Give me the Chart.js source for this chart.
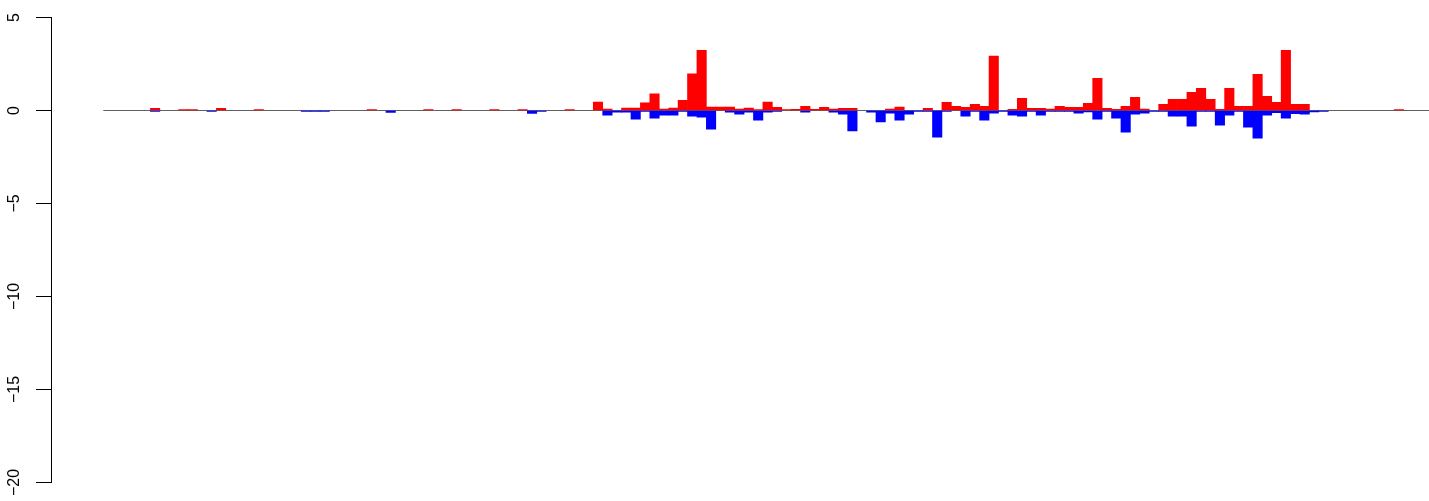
<!DOCTYPE html>
<html>
<head>
<meta charset="utf-8">
<script src="https://cdn.jsdelivr.net/npm/chart.js@4/dist/chart.umd.min.js"></script>
<style>
  html, body { margin: 0; padding: 0; background: #ffffff; }
  #c { display: block; }
</style>
</head>
<body>
<canvas id="c" width="1429" height="501"></canvas>
<script>
// ---- data ----
const categories = Array.from({length: 138}, (_, i) => i + 1);

const redValues = [
  0,0,0,0,0,0.11,0,0,0.05,0.05,
  0,0,0.11,0,0,0,0.02,0,0,0,
  0,0,0,0,0,0,0,0,0.02,0,
  0,0,0,0,0.02,0,0,0.02,0,0,
  0,0.02,0,0,0.02,0,0,0,0,0.02,
  0,0,0.45,0.07,0,0.13,0.13,0.41,0.9,0.07,
  0.13,0.55,1.97,3.24,0.18,0.18,0.18,0.07,0.13,0.02,
  0.45,0.17,0.02,0.06,0.22,0.06,0.17,0.07,0.12,0.12,
  0,0,0,0.07,0.18,0,0,0.12,0,0.44,
  0.22,0.17,0.33,0.22,2.92,0,0.06,0.65,0.11,0.11,
  0.07,0.22,0.17,0.17,0.39,1.73,0.11,0.06,0.22,0.71,
  0.07,0,0.33,0.6,0.6,0.98,1.19,0.6,0.06,1.19,
  0.22,0.22,1.95,0.76,0.44,3.24,0.33,0.33,0,0,
  0,0,0,0,0,0,0,0.02
];

const blueValues = [
  0,0,0,0,0,-0.02,0,0,0,0,
  0,-0.02,0,0,0,0,0,0,0,0,
  0,-0.02,-0.02,-0.02,0,0,0,0,0,0,
  -0.1,0,0,0,0,0,0,0,0,0,
  0,0,0,0,0,-0.16,-0.02,0,0,0,
  0,0,0,-0.25,-0.09,-0.09,-0.47,-0.04,-0.41,-0.25,
  -0.25,-0.04,-0.3,-0.36,-1.0,0,-0.09,-0.2,-0.09,-0.52,
  -0.09,-0.04,0,0,-0.09,0,0,-0.09,-0.2,-1.1,
  0,-0.09,-0.62,-0.14,-0.52,-0.2,-0.05,-0.05,-1.43,-0.04,
  0,-0.3,-0.05,-0.52,-0.14,-0.02,-0.25,-0.3,-0.04,-0.25,
  -0.04,-0.04,-0.05,-0.15,-0.07,-0.47,-0.05,-0.41,-1.16,-0.2,
  -0.15,-0.03,-0.05,-0.3,-0.3,-0.84,-0.05,-0.05,-0.79,-0.25,
  -0.05,-0.9,-1.49,-0.25,-0.12,-0.41,-0.17,-0.2,-0.08,-0.02,
  0,0,0,0,0,0,0,0
];

const yTickValues = [-20, -15, -10, -5, 0, 5];
const Y_MIN = -20, Y_MAX = 5;
// x range in bar units (bar i occupies [i, i+1])
const X_MIN = -5.55, X_MAX = 140.69;

// ---- build datasets ----
const toPoints = (vals) => vals.map((v, i) => ({ x: i + 0.5, y: v === 0 ? null : v }));

const ctx = document.getElementById('c').getContext('2d');
new Chart(ctx, {
  type: 'bar',
  data: {
    datasets: [
      { label: 'up', data: toPoints(redValues), backgroundColor: '#FF0000', order: 1 },
      { label: 'down', data: toPoints(blueValues), backgroundColor: '#0000FF', order: 1 },
      { type: 'line', label: 'baseline',
        data: [{ x: 0, y: 0 }, { x: X_MAX, y: 0 }],
        borderColor: '#606060', borderWidth: 1, pointRadius: 0, order: 2 }
    ]
  },
  options: {
    responsive: false,
    animation: false,
    events: [],
    layout: { padding: { left: 0, right: 0, top: 17.5, bottom: 18.5 } },
    plugins: { legend: { display: false }, tooltip: { enabled: false } },
    datasets: {
      bar: { barPercentage: 1, categoryPercentage: 1, borderWidth: 0, minBarLength: 1 }
    },
    scales: {
      x: { type: 'linear', min: X_MIN, max: X_MAX, offset: false, display: false, stacked: true },
      y: {
        type: 'linear', position: 'left', min: Y_MIN, max: Y_MAX,
        afterBuildTicks: (s) => { s.ticks = yTickValues.map(v => ({ value: v })); },
        afterFit: (s) => { s.width = 51; s.paddingTop = 0; s.paddingBottom = 0; },
        grid: { drawOnChartArea: false, drawTicks: true, tickLength: 15, color: '#000000', tickWidth: 1 },
        border: { display: true, color: '#000000', width: 1 },
        ticks: {
          minRotation: 90, maxRotation: 90, crossAlign: 'center', padding: 8,
          color: '#000000',
          font: { family: '"Liberation Sans", Arial, Helvetica, sans-serif', size: 16 },
          callback: (v) => String(v).replace('-', '\u2212')
        }
      }
    }
  }
});
</script>
</body>
</html>
